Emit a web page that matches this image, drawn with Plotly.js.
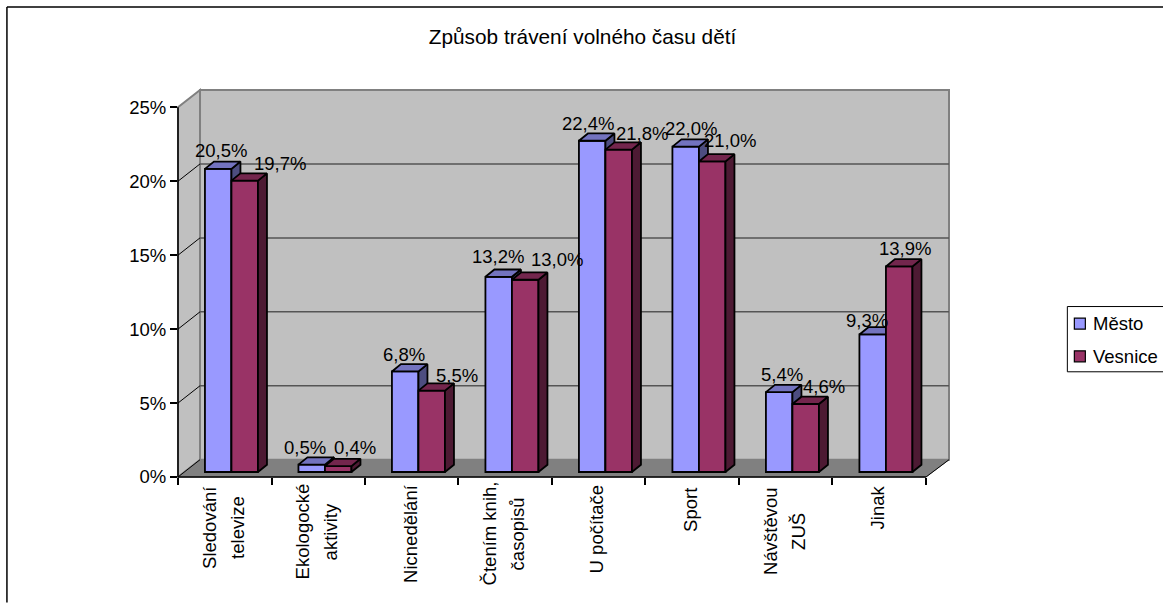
<!DOCTYPE html>
<html>
<head>
<meta charset="utf-8">
<script src="https://cdn.plot.ly/plotly-3.0.1.min.js"></script>
<style>html,body{margin:0;padding:0;background:#fff;overflow:hidden}</style>
</head>
<body>
<div id="chart" style="width:1163px;height:603px"></div>
<script>
// ---------- data ----------
const chartTitle = 'Způsob trávení volného času dětí';
const categories = [['Sledování','televize'],['Ekologocké','aktivity'],['Nicnedělání'],['Čtením knih,','časopisů'],['U počítače'],['Sport'],['Návštěvou','ZUŠ'],['Jinak']];
const seriesNames = ['Město','Vesnice'];
const mesto   = [20.5,0.5,6.8,13.2,22.4,22.0,5.4,9.3];
const vesnice = [19.7,0.4,5.5,13.0,21.8,21.0,4.6,13.9];
const yTicks  = [0,5,10,15,20,25];

// ---------- styling / layout (pixels) ----------
const FONT = '"Liberation Sans", Arial, sans-serif';
const FS = 18.5;
const L = 178, T = 90, R = 948.7, B = 477.3;   // plot box
const pxCat = 93.46, pxPct = 14.8;             // scale
const wallDx = 22, wallDy = 17.3;              // depth of the chart box
const liftDx = 6.7, liftDy = 5;                // bars stand this far in from the front edge
const barW = 26.5, barDx = 9, barDy = 7.3;     // bar width and depth
const colors = {
  front: ['#9999FF','#993366'], top: ['#7373BF','#73264D'], side: ['#4D4D80','#4D1A33']
};
// label offsets from the bar's top centre: [dx, baseline dy]
const labelOffsets = [
  [[3,-11],[-6.5,-10],[-0.7,-10],[-0.5,-13.6],[-3.8,-10.8],[5,-11.7],[2.7,-10.7],[-5.8,-7]],
  [[35.4,-10],[17,-11.4],[25,-8],[32,-13],[23,-9],[18,-14],[18.5,-11],[5.5,-11]]
];
const catLabelCenterY = [528,532,533.5,534,530,510,532,507.5];

// ---------- helpers ----------
const xRange = [0,(R-L)/pxCat], yRange = [0,(B-T)/pxPct];
const px = v => (v-L)/(R-L), py = v => (B-v)/(B-T);
const path = pts => 'M'+pts.map(p=>px(p[0])+','+py(p[1])).join('L')+'Z';
const lineShape = (x0,y0,x1,y1,color,width) => ({type:'line',xref:'paper',yref:'paper',layer:'below',
  x0:px(x0),y0:py(y0),x1:px(x1),y1:py(y1),line:{color,width}});
const poly = (pts,fill,lc,lw) => ({type:'path',xref:'paper',yref:'paper',layer:'below',path:path(pts),
  fillcolor:fill,line:{color:lc||fill,width:lw===undefined?1:lw}});

// ---------- traces ----------
const lift = liftDy/pxPct, bw = barW/pxCat, ddx = barDx/pxCat, ddy = barDy/pxPct;
const centres = categories.map((c,i)=>i+0.5+liftDx/pxCat);
const traces = [];
[mesto,vesnice].forEach((vals,s)=>{
  const ax = s===0 ? {xaxis:'x',yaxis:'y'} : {xaxis:'x2',yaxis:'y2'};
  const xs = centres.map(c=> s===0 ? c-bw/2 : c+bw/2);
  traces.push(Object.assign({type:'bar',name:seriesNames[s],x:xs,y:vals,base:vals.map(()=>lift),width:bw,
    marker:{color:colors.front[s],line:{color:'#000',width:1.8}},showlegend:false,hoverinfo:'x+y'},ax));
  const sx=[],sy=[],tx=[],ty=[];
  vals.forEach((v,i)=>{
    const l=xs[i]-bw/2,r=xs[i]+bw/2,t=v+lift;
    sx.push(r,r+ddx,r+ddx,r,r,null); sy.push(lift,lift+ddy,t+ddy,t,lift,null);
    tx.push(l,r,r+ddx,l+ddx,l,null); ty.push(t,t,t+ddy,t+ddy,t,null);
  });
  [[sx,sy,colors.side[s]],[tx,ty,colors.top[s]]].forEach(f=>{
    traces.push(Object.assign({type:'scatter',mode:'lines',x:f[0],y:f[1],fill:'toself',fillcolor:f[2],
      line:{color:'#000',width:1.8},showlegend:false,hoverinfo:'skip'},ax));
  });
});

// ---------- walls, grid, frame, legend box ----------
const shapes = [
  poly([[L,B],[L+wallDx,B-wallDy],[R,B-wallDy],[R-wallDx-1,B]],'#808080'),
  poly([[L,B],[L+wallDx,B-wallDy],[L+wallDx,T],[L,T+wallDy]],'#C0C0C0','#808080',2),
  poly([[L+wallDx,B-wallDy],[R,B-wallDy],[R,T],[L+wallDx,T]],'#C0C0C0','#808080',2)
];
yTicks.slice(1,-1).forEach(t=>{
  const y=B-t*pxPct;
  shapes.push(lineShape(L,y,L+wallDx,y-wallDy,'#000',1));
  shapes.push(lineShape(L+wallDx,y-wallDy,R,y-wallDy,'#555',1.5));
});
shapes.push(lineShape(L,B,L+wallDx,B-wallDy,'#000',1));
shapes.push(lineShape(R-wallDx-1,B,R,B-wallDy,'#000',1));
shapes.push(lineShape(L,B,L+pxCat*8,B,'#000',1.5));
shapes.push(lineShape(L,B,L,B-25*pxPct,'#000',1.5));
shapes.push(lineShape(7,7,1163,7,'#000',1.5));
shapes.push(lineShape(7,7,7,603,'#000',1.5));
shapes.push({type:'rect',xref:'paper',yref:'paper',layer:'below',x0:px(1067),x1:px(1170),y0:py(306.7),y1:py(372),
  fillcolor:'#fff',line:{color:'#000',width:1}});
[[318.3,0],[351,1]].forEach(a=>shapes.push({type:'rect',xref:'paper',yref:'paper',layer:'below',
  x0:px(1074),x1:px(1085),y0:py(a[0]),y1:py(a[0]+11),fillcolor:colors.front[a[1]],line:{color:'#000',width:1.2}}));

// ---------- annotations ----------
const annotations = [];
const font = {family:FONT,size:FS,color:'#000'};
[mesto,vesnice].forEach((vals,s)=>vals.forEach((v,i)=>{
  const o = labelOffsets[s][i];
  annotations.push({xref:'x',yref:'y',x:centres[i]+(s===0?-bw/2:bw/2),y:v+lift,xanchor:'center',yanchor:'bottom',
    xshift:o[0],yshift:-(o[1]+5.6),showarrow:false,font,text:v.toFixed(1).replace('.',',')+'%'});
}));
categories.forEach((lines,i)=>{
  const shifts = lines.length===2 ? [-15.5,12.5] : [-2];
  lines.forEach((t,k)=>annotations.push({xref:'x',yref:'paper',x:i+0.5,y:py(catLabelCenterY[i]),xshift:shifts[k],
    xanchor:'center',yanchor:'middle',textangle:-90,showarrow:false,font,text:t}));
});
seriesNames.forEach((n,s)=>annotations.push({xref:'paper',yref:'paper',x:px(1091),y:py(s===0?323.5:356.5),
  xanchor:'left',yanchor:'middle',showarrow:false,font,text:n}));

// ---------- layout ----------
const tickFont = {family:FONT,size:FS,color:'#000'};
const layout = {
  width:1163,height:603,
  margin:{l:L,r:1163-R,t:T,b:603-B,pad:0},
  paper_bgcolor:'#fff',plot_bgcolor:'rgba(0,0,0,0)',
  barmode:'overlay',showlegend:false,
  title:{text:chartTitle,font:{family:FONT,size:20.8,color:'#000'},x:582.5/1163,xanchor:'center',y:1-37/603,yanchor:'middle',xref:'container',yref:'container'},
  xaxis:{range:xRange,tickmode:'array',tickvals:categories.map((c,i)=>i).concat(8),showticklabels:false,
    ticks:'outside',ticklen:7,tickwidth:1.5,tickcolor:'#000',showgrid:false,zeroline:false,showline:false,fixedrange:true},
  yaxis:{range:yRange,tickmode:'array',tickvals:yTicks,ticktext:yTicks.map(t=>t+'%'),tickfont:tickFont,
    ticks:'outside',ticklen:7,tickwidth:1.5,tickcolor:'#000',showgrid:false,zeroline:false,showline:false,fixedrange:true},
  xaxis2:{range:xRange,overlaying:'x',visible:false,fixedrange:true},
  yaxis2:{range:yRange,overlaying:'y',visible:false,fixedrange:true},
  shapes,annotations
};
Plotly.newPlot('chart',traces,layout,{displayModeBar:false,responsive:false});
</script>
</body>
</html>
